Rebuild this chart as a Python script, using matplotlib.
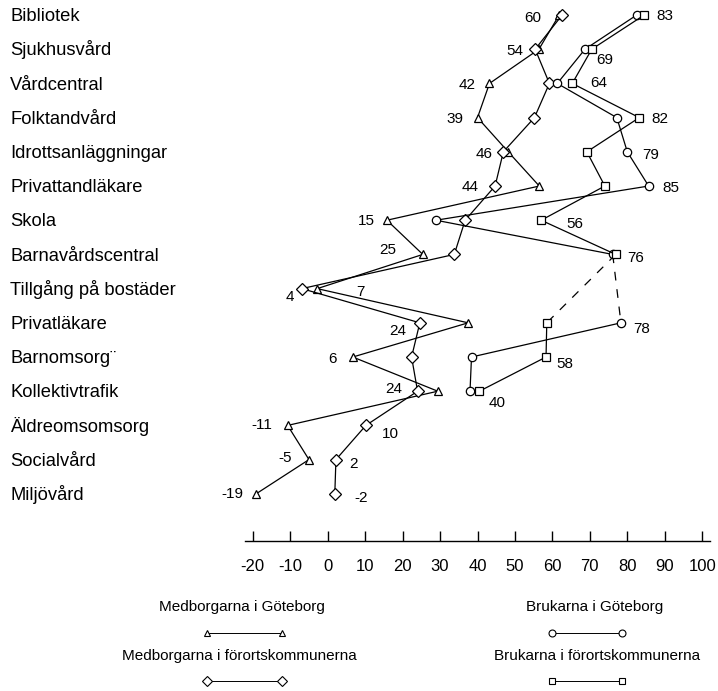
import numpy as np
import matplotlib
matplotlib.use("Agg")
import matplotlib.pyplot as plt
from matplotlib import transforms

plt.rcParams["font.family"] = ["Liberation Sans", "DejaVu Sans"]
plt.rcParams["axes.unicode_minus"] = False

CATEGORIES = ["Bibliotek", "Sjukhusvård", "Vårdcentral", "Folktandvård",
              "Idrottsanläggningar", "Privattandläkare", "Skola", "Barnavårdscentral",
              "Tillgång på bostäder", "Privatläkare", "Barnomsorg¨", "Kollektivtrafik",
              "Äldreomsomsorg", "Socialvård", "Miljövård"]
NAN = np.nan
MED_GBG = [61.8, 56.4, 43.2, 40.0, 48.2, 56.5, 15.8, 25.4, -2.8, 37.5, 6.7, 29.4, -10.7, -5.0, -19.1]
MED_FORORT = [62.6, 55.4, 59.2, 55.2, 46.9, 44.7, 36.7, 33.8, -6.9, 24.6, 22.4, 24.0, 10.2, 2.2, 1.9]
BRU_GBG = [82.5, 68.7, 61.3, 77.2, 80.0, 85.7, 28.9, 76.1, NAN, 78.3, 38.4, 38.0, NAN, NAN, NAN]
BRU_FORORT = [84.5, 70.5, 65.3, 83.2, 69.2, 74.0, 57.0, 76.9, NAN, 58.5, 58.3, 40.5, NAN, NAN, NAN]
XTICKS = list(range(-20, 101, 10))

SERIES = {"tri": (MED_GBG, "^", "Medborgarna i Göteborg"),
          "dia": (MED_FORORT, "D", "Medborgarna i förortskommunerna"),
          "cir": (BRU_GBG, "o", "Brukarna i Göteborg"),
          "sq": (BRU_FORORT, "s", "Brukarna i förortskommunerna")}

# value labels as printed: (series, row, text)
VALUE_LABELS = [("tri", 0, "60"), ("sq", 0, "83"), ("dia", 1, "54"), ("sq", 1, "69"),
                ("tri", 2, "42"), ("sq", 2, "64"), ("tri", 3, "39"), ("sq", 3, "82"),
                ("dia", 4, "46"), ("cir", 4, "79"), ("dia", 5, "44"), ("cir", 5, "85"),
                ("tri", 6, "15"), ("sq", 6, "56"), ("tri", 7, "25"), ("sq", 7, "76"),
                ("dia", 8, "4"), ("tri", 8, "7"), ("dia", 9, "24"), ("cir", 9, "78"),
                ("tri", 10, "6"), ("sq", 10, "58"), ("dia", 11, "24"), ("sq", 11, "40"),
                ("tri", 12, "-11"), ("dia", 12, "10"), ("tri", 13, "-5"), ("dia", 13, "2"),
                ("tri", 14, "-19"), ("dia", 14, "-2")]
# pixel offsets of each label from its point (layout only)
LABEL_OFFS = [(-26, 3), (21, 1), (-20, 2), (13, 11), (-22, 2), (26, 0), (-23, 1), (21, 1),
              (-19, 2), (23, 3), (-25, 1), (22, 2), (-20, 1), (34, 4), (-35, -4), (20, 4),
              (-12, 8), (43, 3), (-22, 8), (21, 6), (-20, 2), (19, 7), (-24, -2), (18, 12),
              (-26, 0), (24, 9), (-24, -2), (18, 4), (-24, 0), (26, 4)]

W, H = 718, 691
fig = plt.figure(figsize=(W / 100, H / 100), dpi=100)
ax = fig.add_axes([245 / W, 1 - 541 / H, (710 - 245) / W, 541 / H])
ax.set_xlim(-22.08, 102.08)
ax.set_ylim(15.38, -0.44)

rows = np.arange(len(CATEGORIES))
for key, (vals, mk, _) in SERIES.items():
    v = np.array(vals, dtype=float)
    ms = 6.2 if mk == "D" else 6
    ax.plot(v, rows, color="black", lw=0.9, marker=mk, ms=ms, mfc="white",
            mec="black", mew=0.9, zorder=3)
    # dashed bridge across the missing row
    ok = ~np.isnan(v)
    for i in range(1, len(v) - 1):
        if np.isnan(v[i]) and ok[i - 1] and ok[i + 1]:
            ax.plot([v[i - 1], v[i + 1]], [i - 1, i + 1], color="black", lw=0.9,
                    ls=(0, (7, 7)), zorder=2)

for (key, r, txt), (dx, dy) in zip(VALUE_LABELS, LABEL_OFFS):
    x = SERIES[key][0][r]
    ax.annotate(txt, (x, r), xytext=(dx, -dy), textcoords="offset pixels",
                ha="center", va="center", fontsize=11)

tr = transforms.blended_transform_factory(fig.transFigure, ax.transData)
for i, c in enumerate(CATEGORIES):
    ax.text(10 / W, i + 0.18, c, transform=tr, ha="left", va="baseline", fontsize=13.2)

for s in ("top", "left", "right"):
    ax.spines[s].set_visible(False)
ax.spines["bottom"].set_linewidth(1)
ax.set_yticks([])
ax.set_xticks(XTICKS)
ax.tick_params(axis="x", direction="in", length=7, width=1, pad=13, labelsize=12)

# legend, laid out in pixel units
lg = fig.add_axes([0, 0, 1, 1])
lg.set_xlim(0, W); lg.set_ylim(H, 0); lg.axis("off")
LEG_POS = {"tri": (242, 607, 207, 282, 633), "dia": (239, 656, 207, 282, 681),
           "cir": (595, 607, 552, 622, 633), "sq": (597, 656, 552, 622, 681)}
for key, (tx, ty, x0, x1, ly) in LEG_POS.items():
    _, mk, name = SERIES[key]
    lg.text(tx, ty, name, ha="center", va="center", fontsize=11)
    lg.plot([x0, x1], [ly, ly], color="black", lw=0.7, marker=mk, ms=5,
            mfc="white", mec="black", mew=0.8)

fig.savefig("out.png", dpi=100)
